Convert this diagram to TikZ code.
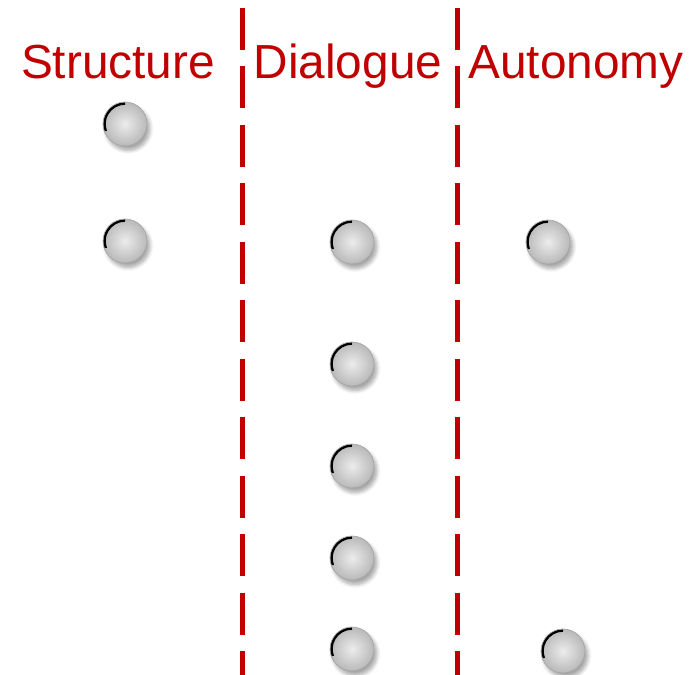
\documentclass[tikz,border=0pt]{standalone}
\usepackage{fontspec}
\setmainfont{Liberation Sans}
\usetikzlibrary{shadows.blur}
\definecolor{darkred}{RGB}{192,0,0}
\tikzset{
  ball/.style={circle, minimum size=0.88cm, inner sep=0pt, outer sep=0pt,
    draw=gray!70, line width=0.4pt, inner color=gray!15, outer color=gray!55,
    blur shadow={shadow xshift=0.6mm, shadow yshift=-0.9mm, shadow blur steps=6, shadow opacity=35},
    path picture={\draw[black, line width=1.4pt]
      (path picture bounding box.center) ++(90:0.41cm) arc[start angle=90, end angle=200, radius=0.41cm];}},
  heading/.style={text=darkred, font=\fontsize{27.2}{30}\selectfont, anchor=base, inner sep=0pt},
  divider/.style={draw=darkred, line width=0.1cm, dash pattern=on 0.84cm off 0.33cm}
}
\begin{document}
\begin{tikzpicture}[x=0.02cm, y=-0.02cm]
            \useasboundingbox (0,0) rectangle (700,675);
            % column titles
            \node at (118,79) (structure) [heading] {Structure};
            \node at (348,79) (dialogue) [heading] {Dialogue};
            \node at (576,79) (autonomy) [heading] {Autonomy};
            % dividers
            \coordinate (d1top) at (242.5,8);
            \coordinate (d1bot) at (242.5,675);
            \coordinate (d2top) at (457,8);
            \coordinate (d2bot) at (457,675);
            \draw[divider] (d1top) -- (d1bot);
            \draw[divider] (d2top) -- (d2bot);
            % balls
            \node at (125,124) (s1) [ball] {};
            \node at (125,241) (s2) [ball] {};
            \node at (352,242) (d1) [ball] {};
            \node at (352,364) (d2) [ball] {};
            \node at (352,466) (d3) [ball] {};
            \node at (352,558) (d4) [ball] {};
            \node at (352,649) (d5) [ball] {};
            \node at (548,242) (a1) [ball] {};
            \node at (563,651) (a2) [ball] {};
        \end{tikzpicture}
\end{document}
